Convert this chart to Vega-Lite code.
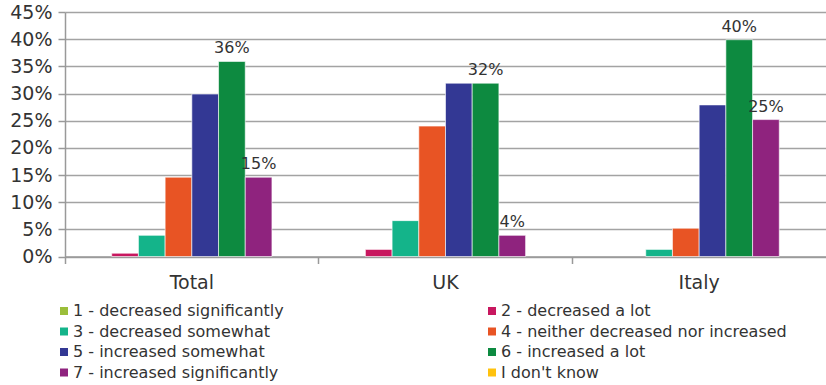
{
  "$schema": "https://vega.github.io/schema/vega-lite/v6.json",
  "autosize": {"type": "none"},
  "width": 761,
  "height": 244.5,
  "padding": {"left": 65, "top": 12, "right": 0, "bottom": 128.5},
  "background": "white",
  "config": {
    "font": "DejaVu Sans",
    "view": {"stroke": null},
    "axis": {"labelColor": "#333333", "domainColor": "#999999", "tickColor": "#999999", "gridColor": "#A3A3A3"}
  },
  "data": {
    "values": [
      {"region": "Total", "answer": "1 - decreased significantly", "share": 0},
      {"region": "Total", "answer": "2 - decreased a lot", "share": 0.006},
      {"region": "Total", "answer": "3 - decreased somewhat", "share": 0.039},
      {"region": "Total", "answer": "4 - neither decreased nor increased", "share": 0.146},
      {"region": "Total", "answer": "5 - increased somewhat", "share": 0.299},
      {"region": "Total", "answer": "6 - increased a lot", "share": 0.359},
      {"region": "Total", "answer": "7 - increased significantly", "share": 0.146},
      {"region": "Total", "answer": "I don't know", "share": 0},
      {"region": "UK", "answer": "1 - decreased significantly", "share": 0},
      {"region": "UK", "answer": "2 - decreased a lot", "share": 0.013},
      {"region": "UK", "answer": "3 - decreased somewhat", "share": 0.066},
      {"region": "UK", "answer": "4 - neither decreased nor increased", "share": 0.24},
      {"region": "UK", "answer": "5 - increased somewhat", "share": 0.319},
      {"region": "UK", "answer": "6 - increased a lot", "share": 0.319},
      {"region": "UK", "answer": "7 - increased significantly", "share": 0.039},
      {"region": "UK", "answer": "I don't know", "share": 0},
      {"region": "Italy", "answer": "1 - decreased significantly", "share": 0},
      {"region": "Italy", "answer": "2 - decreased a lot", "share": 0},
      {"region": "Italy", "answer": "3 - decreased somewhat", "share": 0.013},
      {"region": "Italy", "answer": "4 - neither decreased nor increased", "share": 0.052},
      {"region": "Italy", "answer": "5 - increased somewhat", "share": 0.279},
      {"region": "Italy", "answer": "6 - increased a lot", "share": 0.399},
      {"region": "Italy", "answer": "7 - increased significantly", "share": 0.252},
      {"region": "Italy", "answer": "I don't know", "share": 0}
    ]
  },
  "encoding": {
    "x": {
      "field": "region",
      "type": "nominal",
      "sort": ["Total", "UK", "Italy"],
      "scale": {"paddingInner": 0, "paddingOuter": 0},
      "axis": {
        "title": null,
        "labelAngle": 0,
        "labelFontSize": 19,
        "labelPadding": 10,
        "labelBaseline": "top",
        "tickSize": 7,
        "tickWidth": 1.5,
        "domainWidth": 1.5,
        "bandPosition": 0
      }
    },
    "xOffset": {
      "field": "answer",
      "type": "nominal",
      "scale": {
        "domain": ["1 - decreased significantly", "2 - decreased a lot", "3 - decreased somewhat", "4 - neither decreased nor increased", "5 - increased somewhat", "6 - increased a lot", "7 - increased significantly", "I don't know"],
        "paddingInner": 0,
        "paddingOuter": 0.75
      }
    },
    "y": {
      "field": "share",
      "type": "quantitative",
      "scale": {"domain": [0, 0.45]},
      "axis": {
        "title": null,
        "format": ".0%",
        "values": [0, 0.05, 0.1, 0.15, 0.2, 0.25, 0.3, 0.35, 0.4, 0.45],
        "labelFontSize": 19,
        "labelPadding": 6,
        "tickSize": 7,
        "tickWidth": 1.5,
        "domainWidth": 1.5,
        "gridWidth": 1.5
      }
    }
  },
  "layer": [
    {
      "transform": [{"filter": "datum.share > 0"}],
      "mark": {"type": "bar", "stroke": "white", "strokeWidth": 0.6},
      "encoding": {
        "color": {
          "field": "answer",
          "type": "nominal",
          "scale": {
            "domain": ["1 - decreased significantly", "2 - decreased a lot", "3 - decreased somewhat", "4 - neither decreased nor increased", "5 - increased somewhat", "6 - increased a lot", "7 - increased significantly", "I don't know"],
            "range": ["#9BBE3A", "#C8175F", "#14B48A", "#E85424", "#333894", "#0D8A40", "#8F237E", "#FFC20E"]
          },
          "legend": {
            "title": null,
            "orient": "none",
            "direction": "horizontal",
            "legendX": -9,
            "legendY": 291,
            "columns": 2,
            "columnPadding": 200,
            "rowPadding": 4.5,
            "symbolType": "square",
            "symbolSize": 64,
            "symbolStrokeWidth": 0,
            "symbolOpacity": 1,
            "labelFontSize": 16,
            "labelColor": "#333333",
            "labelOffset": 1,
            "labelLimit": 400
          }
        }
      }
    },
    {
      "transform": [{"filter": {"field": "answer", "oneOf": ["6 - increased a lot", "7 - increased significantly"]}}],
      "mark": {"type": "text", "baseline": "alphabetic", "dy": -8, "fontSize": 16, "color": "#333333"},
      "encoding": {
        "text": {"field": "share", "type": "quantitative", "format": ".0%"}
      }
    }
  ]
}
